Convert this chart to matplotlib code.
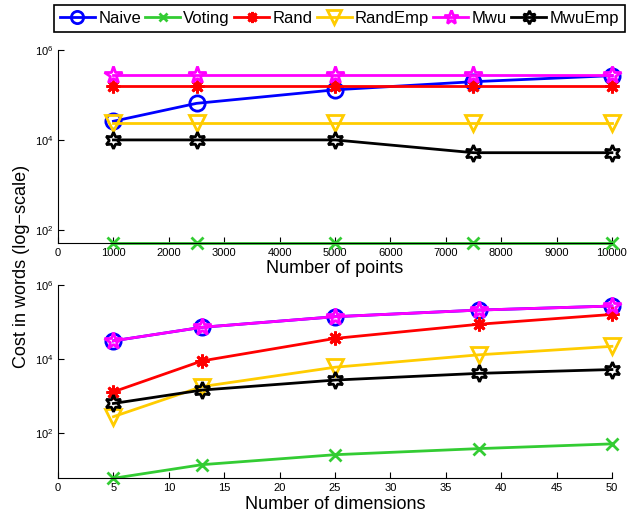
import numpy as np
import matplotlib
matplotlib.use('Agg')
from matplotlib import pyplot as plt

plt.rcParams['font.family'] = ['Liberation Sans', 'DejaVu Sans']
plt.rcParams['mathtext.fontset'] = 'custom'
plt.rcParams['mathtext.rm'] = 'Liberation Sans'

# top panel: cost vs number of points
points = [1000, 2500, 5000, 7500, 10000]
pts_naive = [2.6e4, 6.5e4, 1.3e5, 1.97e5, 2.68e5]
pts_voting = [52, 52, 52, 52, 52]
pts_rand = [1.58e5, 1.58e5, 1.58e5, 1.58e5, 1.58e5]
pts_randemp = [2.35e4, 2.35e4, 2.35e4, 2.35e4, 2.35e4]
pts_mwu = [2.77e5, 2.77e5, 2.77e5, 2.77e5, 2.77e5]
pts_mwuemp = [1.0e4, 1.0e4, 1.0e4, 5.2e3, 5.2e3]

# bottom panel: cost vs number of dimensions
dims = [5, 13, 25, 38, 50]
dim_naive = [3.1e4, 7.2e4, 1.39e5, 2.1e5, 2.7e5]
dim_voting = [6, 14, 26, 38, 51]
dim_rand = [1.3e3, 8.9e3, 3.6e4, 8.7e4, 1.6e5]
dim_randemp = [277, 1.8e3, 6.0e3, 1.3e4, 2.2e4]
dim_mwu = [3.1e4, 7.2e4, 1.39e5, 2.1e5, 2.7e5]
dim_mwuemp = [630, 1.45e3, 2.7e3, 4.1e3, 5.2e3]

names = ['Naive', 'Voting', 'Rand', 'RandEmp', 'Mwu', 'MwuEmp']
colors = ['#0000ff', '#33cc33', '#ff0000', '#ffcc00', '#ff00ff', '#000000']
markers = ['o', 'x', (8, 2, 0), 'v', '*', (6, 1, 0)]
msizes = [11, 8, 10, 12, 13, 12]

fig = plt.figure(figsize=(6.28, 5.23), dpi=100)
ax1 = fig.add_axes([0.0924, 0.536, 0.882, 0.3685])
ax2 = fig.add_axes([0.0924, 0.0855, 0.882, 0.3696])

top = [pts_naive, pts_voting, pts_rand, pts_randemp, pts_mwu, pts_mwuemp]
bot = [dim_naive, dim_voting, dim_rand, dim_randemp, dim_mwu, dim_mwuemp]

handles = []
for i in range(6):
    h, = ax1.plot(points, top[i], color=colors[i], marker=markers[i], ms=msizes[i],
                  mfc='none', mec=colors[i], mew=2, lw=2, label=names[i], clip_on=False)
    ax2.plot(dims, bot[i], color=colors[i], marker=markers[i], ms=msizes[i],
             mfc='none', mec=colors[i], mew=2, lw=2, clip_on=False)
    handles.append(h)

for ax in (ax1, ax2):
    ax.set_yscale('log')
    ax.spines['top'].set_visible(False)
    ax.spines['right'].set_visible(False)
    ax.tick_params(direction='in', labelsize=8, length=4)
    ax.tick_params(which='minor', left=False)
    ax.set_yticks([1e2, 1e4, 1e6])

ax1.set_xlim(0, 10000)
ax1.set_ylim(52, 1e6)
ax1.set_xticks(np.arange(0, 10001, 1000))
ax1.set_xlabel('Number of points', fontsize=13, labelpad=2)

ax2.set_xlim(0, 50)
ax2.set_ylim(6, 1e6)
ax2.set_xticks(np.arange(0, 51, 5))
ax2.set_xlabel('Number of dimensions', fontsize=13, labelpad=2)

fig.text(0.035, 0.49, 'Cost in words (log\u2212scale)', rotation=90, fontsize=13,
         ha='center', va='center')

leg = fig.legend(handles, names, loc='upper right', bbox_to_anchor=(0.995, 0.99),
                 ncol=6, fontsize=12, handlelength=2.1, handletextpad=0.2,
                 columnspacing=0.25, borderpad=0.35, borderaxespad=0,
                 fancybox=False, framealpha=1, edgecolor='black', markerscale=0.8)
leg.get_frame().set_linewidth(1.2)

fig.savefig('out.png', dpi=100)
